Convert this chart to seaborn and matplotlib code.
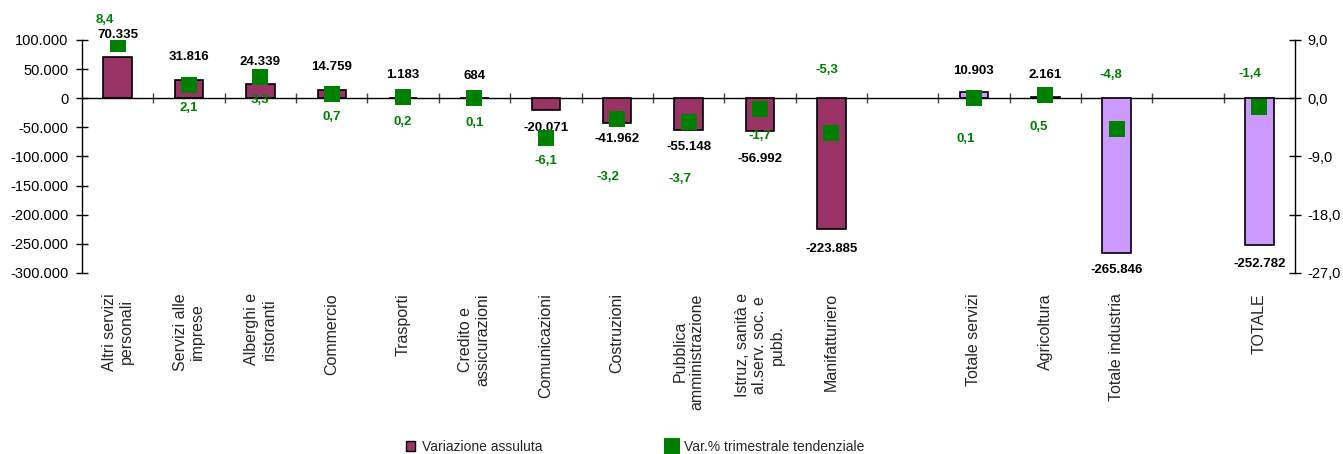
import matplotlib
matplotlib.use("Agg")
import matplotlib.pyplot as plt
from matplotlib.patches import Patch
from matplotlib.lines import Line2D
from matplotlib.ticker import FuncFormatter
import seaborn as sns
import pandas as pd

# Settori (con due posizioni vuote di separazione nell'asse)
settori = [
    "Altri servizi\npersonali", "Servizi alle\nimprese", "Alberghi e\nristoranti",
    "Commercio", "Trasporti", "Credito e\nassicurazioni", "Comunicazioni",
    "Costruzioni", "Pubblica\namministrazione",
    "Istruz, sanità e\nal.serv. soc. e\npubb.", "Manifatturiero",
    "Totale servizi", "Agricoltura", "Totale industria", "TOTALE",
]
ordine = settori[:11] + [" "] + settori[11:14] + ["  "] + settori[14:]
gruppo = ["settore"] * 11 + ["totale", "settore", "totale", "totale"]

variazione_assoluta = [70335, 31816, 24339, 14759, 1183, 684, -20071, -41962,
                       -55148, -56992, -223885, 10903, 2161, -265846, -252782]
var_perc_tendenziale = [8.4, 2.1, 3.3, 0.7, 0.2, 0.1, -6.1, -3.2, -3.7, -1.7,
                        -5.3, 0.1, 0.5, -4.8, -1.4]

# Spostamenti delle etichette (punti tipografici)
off_nero = [16, 16, 16, 16, 16, 16, -13, -12, -12, -19.5, -15, 15, 16, -12, -13]
off_verde = [(-9, 17), (0, -16.5), (0, -16.5), (0, -17), (0, -18), (0, -18),
             (0, -17), (-7, -42), (-6.5, -41), (0, -19), (-3, 45), (-6, -29.5),
             (-5, -23), (-4.5, 39), (-6.5, 24)]

BORDEAUX = "#993366"
LILLA = "#CC99FF"
VERDE = "#008000"

sns.set_style("white")
plt.rcParams["font.family"] = ["Liberation Sans", "DejaVu Sans"]

df = pd.DataFrame({"settore": settori, "valore": variazione_assoluta,
                   "gruppo": gruppo, "perc": var_perc_tendenziale})
df["pos"] = [ordine.index(s) for s in settori]

fig = plt.figure(figsize=(13.43, 4.54), dpi=100)
ax = fig.add_axes([0.0611, 0.3987, 0.9643 - 0.0611, 0.9119 - 0.3987])

sns.barplot(data=df, x="settore", y="valore", hue="gruppo", order=ordine,
            palette={"settore": BORDEAUX, "totale": LILLA}, saturation=1,
            dodge=False, width=0.4, edgecolor="black", linewidth=1.2,
            errorbar=None, legend=False, ax=ax)

ymin, ymax = -300000, 100000
ax.set_xlim(-0.5, len(ordine) - 0.5)
ax.set_ylim(ymin, ymax)
ax.set_yticks(range(ymin, ymax + 1, 50000))
ax.yaxis.set_major_formatter(FuncFormatter(lambda v, p: f"{int(v):,}".replace(",", ".")))
ax.set_xlabel("")
ax.set_ylabel("")
ax.set_xticks(range(len(ordine)))
ax.set_xticklabels(ordine, rotation=90, fontsize=11.5, ha="center", va="top",
                   multialignment="center")
ax.tick_params(axis="x", length=0, pad=14.5)
ax.tick_params(axis="y", direction="inout", length=8, width=1, labelsize=10.5,
               pad=6, color="black", labelcolor="black")
for lato in ("top", "bottom", "right"):
    ax.spines[lato].set_visible(False)
ax.spines["left"].set_color("black")
ax.spines["left"].set_linewidth(1)

# Asse orizzontale sullo zero con tacche tra le categorie
zero = ax.secondary_xaxis((0 - ymin) / (ymax - ymin))
zero.set_xticks([i + 0.5 for i in range(len(ordine) - 1)])
zero.set_xticklabels([])
zero.tick_params(axis="x", direction="inout", length=7, width=1, color="#444444")
for sp in zero.spines.values():
    sp.set_color("black")
    sp.set_linewidth(1)

for x, v, dy in zip(df["pos"], df["valore"], off_nero):
    ax.annotate(f"{v:,}".replace(",", "."), xy=(x, v), xytext=(0, dy),
                textcoords="offset points", ha="center", va="center",
                fontsize=9.5, fontweight="bold", color="black", annotation_clip=False)

# Asse secondario per la variazione percentuale
ax2 = ax.twinx()
sns.scatterplot(x=df["pos"].to_numpy(), y=df["perc"].to_numpy(), marker="s",
                s=125, color=VERDE, linewidth=0, ax=ax2, zorder=5, legend=False)
ax2.set_ylim(-27, 9)
ax2.set_yticks([9, 0, -9, -18, -27])
ax2.yaxis.set_major_formatter(FuncFormatter(lambda v, p: f"{v:.1f}".replace(".", ",")))
ax2.tick_params(axis="y", direction="inout", length=8, width=1, labelsize=10.5,
                pad=5, color="black", labelcolor="black")
for lato in ("top", "bottom", "left"):
    ax2.spines[lato].set_visible(False)
ax2.spines["right"].set_color("black")
ax2.spines["right"].set_linewidth(1)
ax2.set_xlim(-0.5, len(ordine) - 0.5)

for x, p, (dx, dy) in zip(df["pos"], df["perc"], off_verde):
    ax2.annotate(f"{p:.1f}".replace(".", ","), xy=(x, p), xytext=(dx, dy),
                 textcoords="offset points", ha="center", va="center",
                 fontsize=9.5, fontweight="bold", color=VERDE, annotation_clip=False,
                 zorder=6)

maniglie = [
    Patch(facecolor=BORDEAUX, edgecolor="black", linewidth=1),
    Line2D([], [], marker="s", linestyle="", color=VERDE, markersize=11,
           markeredgewidth=0),
]
fig.legend(maniglie, ["Variazione assuluta", "Var.% trimestrale tendenziale"],
           loc="center", bbox_to_anchor=(0.473, 0.0154), ncol=2, frameon=False,
           fontsize=10, handlelength=0.65, handleheight=0.65, handletextpad=0.5,
           columnspacing=9.0)

fig.savefig("out.png", dpi=100)
